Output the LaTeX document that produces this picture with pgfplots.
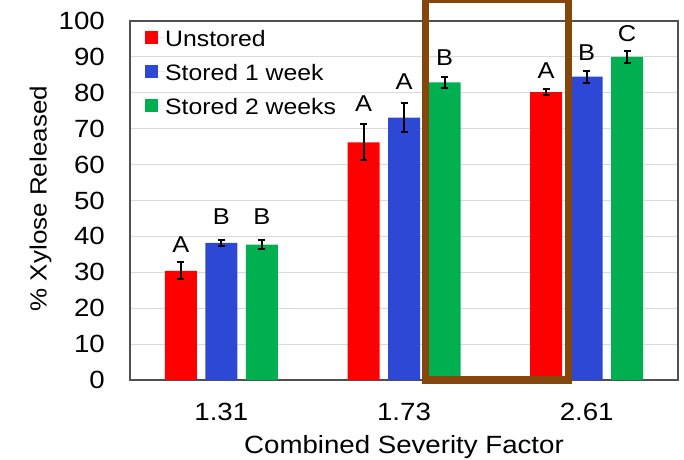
\documentclass[border=0pt]{standalone}
\usepackage{pgfplots}
\pgfplotsset{compat=1.18}
\usepackage{fontspec}
\setmainfont{Liberation Sans}[FakeStretch=1.11]
\definecolor{barred}{RGB}{255,0,0}
\definecolor{barblue}{RGB}{44,72,212}
\definecolor{bargreen}{RGB}{0,176,80}
\definecolor{boxbrown}{RGB}{132,70,10}
\definecolor{gridgray}{RGB}{217,217,217}
\definecolor{framegray}{RGB}{80,80,80}
\begin{document}
\begin{tikzpicture}[font=\fontsize{25}{30}\selectfont]
\begin{axis}[
 width=548bp, height=359bp, scale only axis,
 xmin=-0.5, xmax=2.5, ymin=0, ymax=100,
 ybar=8.5bp, bar width=32bp,
 xtick={0,1,2}, xticklabels={1.31,1.73,2.61},
 ytick={0,10,...,100},
 ymajorgrids, major grid style={gridgray, line width=1.2bp},
 major tick length=0pt,
 axis line style={framegray, line width=1.2bp},
 font=\fontsize{25}{30}\selectfont,
 /pgf/number format/assume math mode=true,
 yticklabel style={anchor=east, inner sep=0pt, xshift=-25bp, font=\fontsize{25}{30}\selectfont},
 xticklabel style={anchor=center, inner sep=0pt, yshift=-31.7bp, font=\fontsize{25}{30}\selectfont},
 xlabel={Combined Severity Factor},
 ylabel={\% Xylose Released},
 xlabel style={at={(axis description cs:0.5,-0.1858)}, anchor=center, inner sep=0pt, font=\fontsize{25}{30}\selectfont},
 ylabel style={at={(axis description cs:-0.1633,0.505)}, anchor=center, inner sep=0pt, font=\fontsize{23.5}{28}\selectfont},
 legend style={at={(axis description cs:0.0274,0.977)}, anchor=north west, draw=none, fill=none,
   inner sep=0pt, row sep=17bp, font=\fontsize{22.4}{27}\selectfont,
   nodes={inner sep=0pt, anchor=west, text height=17bp, text depth=0bp}},
 legend cell align=left,
 legend image code/.code={\fill[#1,draw=none] (0bp,-6.5bp) rectangle (13bp,6.5bp); \path (0bp,0bp) -- (20bp,0bp);},
 clip=false,
 error bars/y dir=both, error bars/y explicit,
 error bars/error bar style={black, line width=2bp},
 error bars/error mark options={rotate=90, black, mark size=3.5bp, line width=2bp},
]
\addplot[fill=barred, draw=none] coordinates {(0,30.4)+-(0,2.4) (1,66.2)+-(0,5.0) (2,80.2)+-(0,0.75)};
\addplot[fill=barblue, draw=none] coordinates {(0,38.2)+-(0,0.8) (1,73.1)+-(0,4.1) (2,84.5)+-(0,1.7)};
\addplot[fill=bargreen, draw=none] coordinates {(0,37.7)+-(0,1.3) (1,82.9)+-(0,1.6) (2,90.0)+-(0,1.6)};
\legend{Unstored, Stored 1 week, Stored 2 weeks}
\begin{scope}[font=\fontsize{23}{28}\selectfont]
\node at (axis cs:0,37.6) [xshift=-40.5bp] {A};
\node at (axis cs:0,45.5) {B};
\node at (axis cs:0,45.5) [xshift=40.5bp] {B};
\node at (axis cs:1,77.1) [xshift=-40.5bp] {A};
\node at (axis cs:1,83.1) {A};
\node at (axis cs:1,89.9) [xshift=40.5bp] {B};
\node at (axis cs:2,86.2) [xshift=-40.5bp] {A};
\node at (axis cs:2,91.3) {B};
\node at (axis cs:2,96.6) [xshift=40.5bp] {C};
\end{scope}
\draw[boxbrown, line width=7.7bp] (axis cs:1.1177,0) rectangle (axis cs:1.9005,106.1);
\end{axis}
\pgfresetboundingbox
\useasboundingbox (-130bp,-80bp) rectangle (554bp,380bp);
\end{tikzpicture}
\end{document}
